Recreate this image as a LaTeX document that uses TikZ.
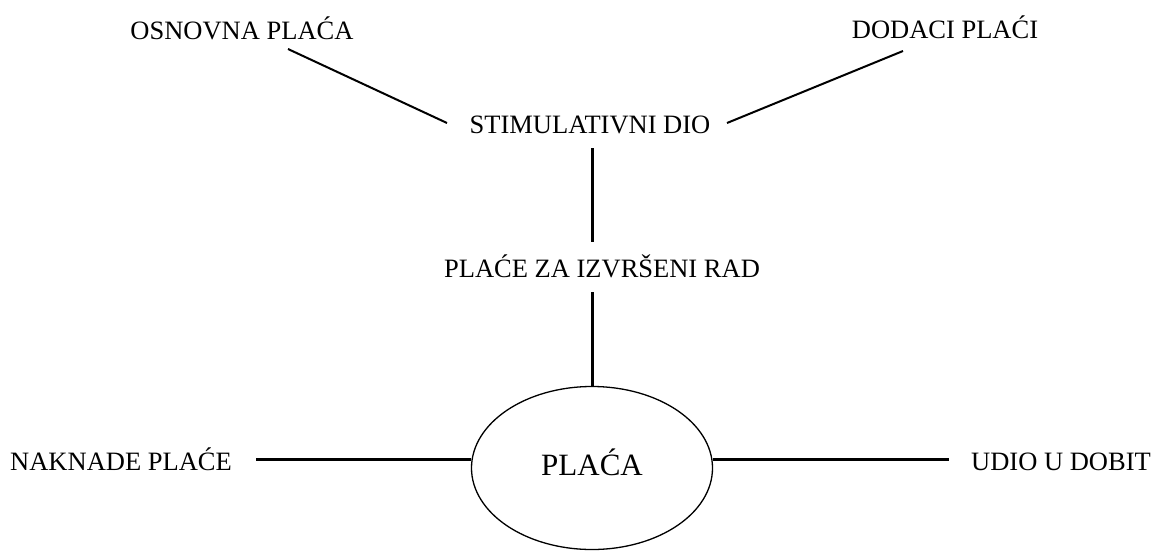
\documentclass[tikz,border=0pt]{standalone}
\usepackage{fontspec}
\setmainfont{Liberation Serif}
\usetikzlibrary{shapes.geometric,calc}
\begin{document}
\begin{tikzpicture}[x=1pt,y=-1pt,
  lbl/.style={anchor=base,inner sep=0pt,font=\fontsize{26.5}{30}\selectfont},
  thin link/.style={line width=2pt},
  thick link/.style={line width=3pt},
  oval/.style={ellipse,draw,line width=1.3pt,minimum width=241pt,minimum height=163pt,inner sep=0pt,
    font=\fontsize{31}{34}\selectfont,text height=27.6pt,text depth=13.6pt}]
\useasboundingbox (0,0) rectangle (1154,552);
\node[lbl] (osn) at (242,39) {OSNOVNA PLAĆA};
\node[lbl] (dod) at (945,38) {DODACI PLAĆI};
\node[lbl] (stim) at (590,133) {STIMULATIVNI DIO};
\node[lbl] (pzr) at (602,277) {PLAĆE ZA IZVRŠENI RAD};
\node[lbl] (nak) at (121,470) {NAKNADE PLAĆE};
\node[lbl] (udi) at (1061,470) {UDIO U DOBIT};
\node[oval] (pl) at (592,468) {PLAĆA};
\coordinate (nakend) at ($(nak.base)+(135,-11)$);
\coordinate (udiend) at ($(udi.base)+(-112,-11)$);
\coordinate (pzrend) at ($(pzr.base)+(-10,15)$);
\draw[thin link] ($(osn.base)+(46,10)$) -- ($(stim.base)+(-143,-10)$);
\draw[thin link] ($(stim.base)+(137,-10)$) -- ($(dod.base)+(-42,13)$);
\draw[thick link] ($(stim.base)+(2,15)$) -- ($(pzr.base)+(-10,-35)$);
\draw[thick link] (pzrend) -- (pzrend |- pl.north);
\draw[thick link] (nakend) -- (nakend -| pl.west);
\draw[thick link] (udiend -| pl.east) -- (udiend);
\end{tikzpicture}
\end{document}
